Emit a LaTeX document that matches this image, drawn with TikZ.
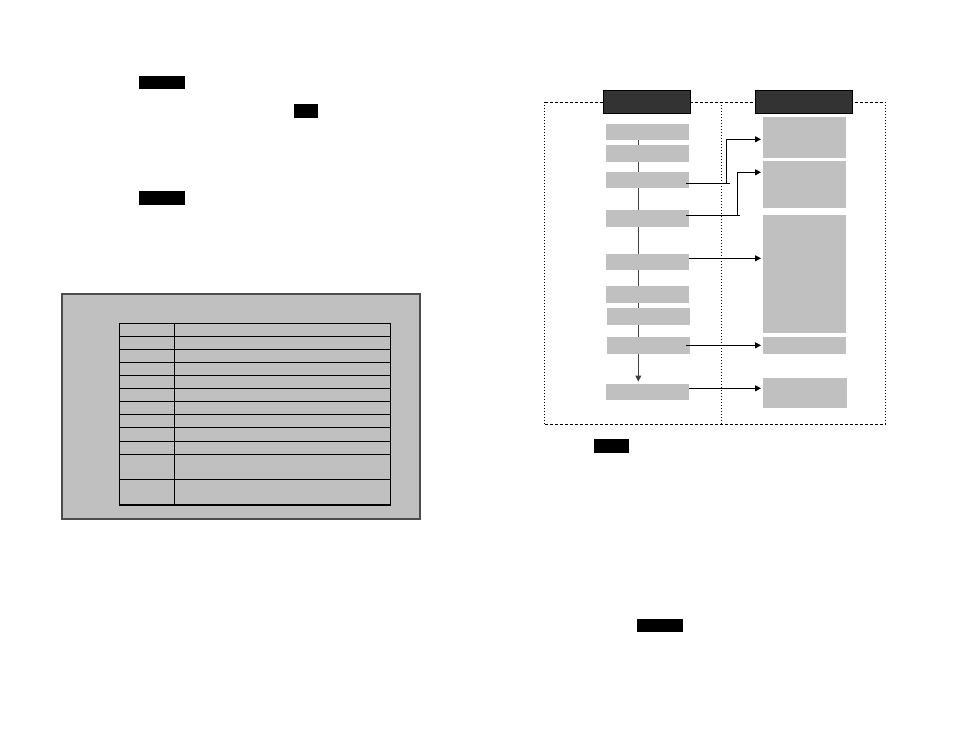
\documentclass[tikz,border=0pt]{standalone}
\usetikzlibrary{arrows.meta,backgrounds}
\definecolor{boxgray}{HTML}{C0C0C0}
\definecolor{headgray}{HTML}{333333}
\tikzset{
  lbox/.style={fill=boxgray, inner sep=0pt, outer sep=0pt, minimum width=83pt, minimum height=16.5pt},
  rbox/.style={lbox},
  head/.style={fill=headgray, draw=black, line width=1pt, inner sep=0pt, minimum height=22.7pt},
  link/.style={line width=1pt, -{Triangle[length=6pt,width=6pt]}, shorten >=2pt},
  tag/.style={fill=black},
  grid/.style={line width=1.3pt}
}
\begin{document}
\begin{tikzpicture}[x=1pt, y=-1pt]
  \useasboundingbox (0,0) rectangle (954,737);
  % left page: black tags
  \fill[tag] (139,76) rectangle (184.7,89);
  \fill[tag] (294,104) rectangle (318,117.7);
  \fill[tag] (139,191) rectangle (184.7,204.7);
  % left page: panel with table
  \draw[fill=boxgray, draw=black!70, line width=2pt] (62,293.5) rectangle (420,518.5);
  \draw[grid] (119.3,323.3) rectangle (390.7,505);
  \draw[grid] (174.3,323.3) -- (174.3,505);
  \foreach \y in {336.3,349.3,362.3,375.3,388.3,401.3,414.3,427.3,441.3,454.3,479.3}
    \draw[grid] (119.3,\y) -- (390.7,\y);
  % right page: tags
  \fill[tag] (594,439) rectangle (629,452.7);
  \fill[tag] (637,619) rectangle (682.7,632);
  % right page: flow
  \node[head, minimum width=87.4pt] (h1) at (647,102.3) {};
  \node[head, minimum width=97.4pt] (h2) at (804,102.3) {};
  \node[lbox] (l1) at (647.5,132) {};
  \node[lbox] (l2) at (647.5,153.3) {};
  \node[lbox] (l3) at (647.5,179.8) {};
  \node[lbox] (l4) at (647.5,218.3) {};
  \node[lbox] (l5) at (647.5,261.8) {};
  \node[lbox] (l6) at (647.5,294.3) {};
  \node[lbox] (l7) at (648.5,316.3) {};
  \node[lbox] (l8) at (648.5,345.3) {};
  \node[lbox] (l9) at (647.5,391.8) {};
  \node[rbox, minimum height=40.7pt] (r1) at (804.5,137.3) {};
  \node[rbox, minimum height=46.7pt] (r2) at (804.5,184.3) {};
  \node[rbox, minimum height=117.7pt] (r3) at (804.5,273.8) {};
  \node[rbox, minimum height=16.7pt] (r4) at (804.5,345.3) {};
  \node[rbox, minimum width=84pt, minimum height=29.7pt] (r5) at (805,392.8) {};
  \begin{scope}[on background layer]
    \draw[line width=1pt, dash pattern=on 3pt off 2pt] (544.7,102.3) -- (885,102.3);
    \draw[line width=1pt, dash pattern=on 3pt off 2pt] (544.7,424) -- (885,424);
    \draw[line width=1pt, dotted] (544.7,102.3) -- (544.7,424);
    \draw[line width=1pt, dotted] (885,102.3) -- (885,424);
    \draw[line width=1pt, dotted] (721.7,102.3) -- (721.7,424);
    \draw[link, black!75] ([xshift=-9.2pt]l1.south) -- ([xshift=-9.2pt]l9.north);
  \end{scope}
  \coordinate (j1) at (726,183.3);
  \coordinate (j2) at (737.3,215.3);
  \draw[line width=1pt] ([xshift=-3pt,yshift=-3.5pt]l3.east) -- ([xshift=3.7pt]j1);
  \draw[link] (j1) |- ([yshift=-2pt]r1.west);
  \draw[line width=1pt] ([xshift=-3pt,yshift=3pt]l4.east) -- ([xshift=3pt]j2);
  \draw[link] (j2) |- ([yshift=12pt]r2.west);
  \draw[link] ([yshift=3.5pt]l5.east) -- ([yshift=3.5pt]l5.east -| r3.west);
  \draw[link] ([xshift=-4pt]l8.east) -- (r4.west);
  \draw[link] ([yshift=3.5pt]l9.east) -- ([yshift=3.5pt]l9.east -| r5.west);
\end{tikzpicture}
\end{document}
